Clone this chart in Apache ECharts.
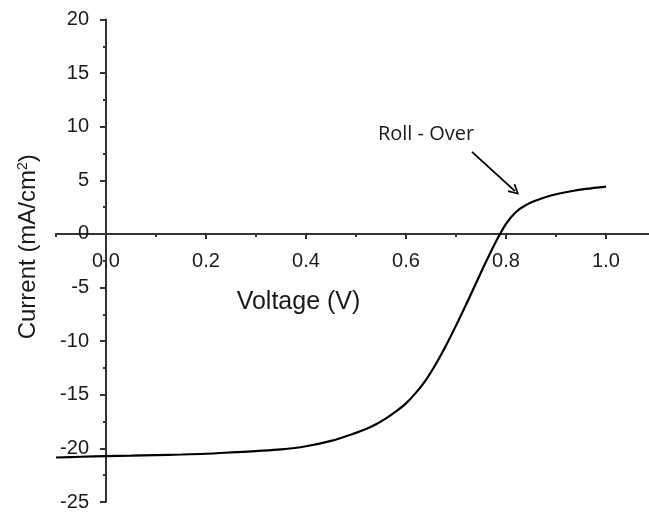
<!DOCTYPE html>
<html lang="en">
<head>
	<meta charset="UTF-8">
	<title>J-V curve</title>
	<script src="https://cdn.jsdelivr.net/npm/echarts@6/dist/echarts.min.js"></script>
	<style>
		html,body{margin:0;padding:0;background:#fff;}
		#jv-chart{width:649px;height:514px;}
	</style>
</head>
<body>
<div id="jv-chart"></div>
<script>
	// 曲线数据 电压(V) / 电流密度(mA/cm2)
	var voltage = [-0.1,-0.05,0.0,0.05,0.1,0.15,0.2,0.25,0.3,0.35,0.4,0.45,0.5,0.52,0.54,0.56,0.58,0.6,0.62,0.64,0.66,0.68,0.7,0.72,0.74,0.76,0.78,0.8,0.82,0.84,0.86,0.88,0.9,0.93,0.96,1.0];
	var current = [-20.85,-20.78,-20.72,-20.67,-20.62,-20.57,-20.5,-20.38,-20.25,-20.1,-19.8,-19.3,-18.55,-18.2,-17.75,-17.2,-16.55,-15.8,-14.8,-13.6,-12.1,-10.4,-8.55,-6.6,-4.6,-2.6,-0.7,0.95,2.05,2.7,3.12,3.45,3.7,3.98,4.2,4.42];

	// 刻度
	var xMajor = [0,0.2,0.4,0.6,0.8,1.0];
	var xMinor = [-0.1,0.1,0.3,0.5,0.7,0.9];

	// 标注 Roll - Over
	var calloutText = 'Roll - Over';
	var calloutAt = [0.64,9.25];
	var arrowFrom = [0.732,7.65];
	var arrowTo = [0.818,4.0];

	var points = [];
	for(var i=0;i<voltage.length;i++){
		points.push([voltage[i],current[i]]);
	}

	var W = 649, H = 514;
	var gridLeft = 56, gridBottom = 12;
	var axisColor = '#333';
	var chart = echarts.init(document.getElementById('jv-chart'),null,{renderer:'canvas',width:W,height:H});
	var option = {
		animation:false,
		grid:{left:gridLeft,right:-7,top:19.5,bottom:gridBottom,containLabel:false,outerBoundsMode:'none'},
		xAxis:[
			{
				type:'value',
				min:-0.1,
				max:1.1,
				interval:0.1,
				position:'bottom',
				splitLine:{show:false},
				axisLine:{onZero:false,lineStyle:{color:axisColor,width:2}},
				axisTick:{customValues:xMajor,length:5,lineStyle:{color:axisColor,width:2}},
				axisLabel:{
					customValues:xMajor,
					margin:18,
					color:'#1a1a1a',
					fontSize:20,
					fontFamily:'Liberation Sans',
					formatter:function(v){return v.toFixed(1);}
				},
				name:'Voltage (V)',
				nameLocation:'middle',
				nameGap:56,
				nameTextStyle:{
					color:'#1a1a1a',
					fontSize:25,
					fontFamily:'Liberation Sans',
					padding:[0,115,0,0]
				}
			},
			{
				// 次刻度
				type:'value',
				min:-0.1,
				max:1.1,
				interval:0.1,
				position:'bottom',
				splitLine:{show:false},
				axisLine:{onZero:false,lineStyle:{color:axisColor,width:2}},
				axisTick:{customValues:xMinor,length:3,lineStyle:{color:axisColor,width:2}},
				axisLabel:{show:false}
			}
		],
		yAxis:{
			type:'value',
			min:-25,
			max:20,
			interval:5,
			position:'left',
			splitLine:{show:false},
			axisLine:{onZero:false,lineStyle:{color:axisColor,width:2}},
			axisTick:{length:6,lineStyle:{color:axisColor,width:2}},
			minorTick:{show:true,splitNumber:2,length:3,lineStyle:{color:axisColor,width:2}},
			axisLabel:{
				margin:17,
				color:'#1a1a1a',
				fontSize:20,
				fontFamily:'Liberation Sans'
			},
			name:'{a|Current (mA/cm}{s|2}{a|)}',
			nameLocation:'middle',
			nameGap:66,
			nameTextStyle:{
				padding:[0,0,0,28],
				rich:{
					a:{color:'#1a1a1a',fontSize:24,fontFamily:'Liberation Sans'},
					s:{color:'#1a1a1a',fontSize:14,fontFamily:'Liberation Sans',verticalAlign:'top',padding:[0,0,10,0]}
				}
			}
		},
		series:[
			{
				type:'line',
				data:points,
				smooth:0.3,
				showSymbol:false,
				lineStyle:{color:'#000',width:2.2},
				markLine:{
					silent:true,
					symbol:['none','path://M0,10 L5,0 L10,10 L8.6,11 L5,3.2 L1.4,11 Z'],
					symbolSize:[11,11],
					label:{show:false},
					lineStyle:{color:'#000',width:1.8,type:'solid'},
					data:[[{coord:arrowFrom},{coord:arrowTo}]]
				},
				markPoint:{
					silent:true,
					symbol:'circle',
					symbolSize:0,
					label:{
						show:true,
						position:'inside',
						color:'#1a1a1a',
						fontSize:20,
						fontFamily:'Open Sans',
						formatter:calloutText
					},
					data:[{coord:calloutAt}]
				}
			}
		]
	};
	chart.setOption(option);

	// 坐标轴移到原点 (标签跟着轴线走)
	var origin = chart.convertToPixel({gridIndex:0},[0,0]);
	var xOffset = origin[1] - (H - gridBottom);
	var yOffset = gridLeft - origin[0];
	chart.setOption({
		xAxis:[{offset:xOffset},{offset:xOffset}],
		yAxis:{offset:yOffset}
	});
</script>
</body>
</html>
